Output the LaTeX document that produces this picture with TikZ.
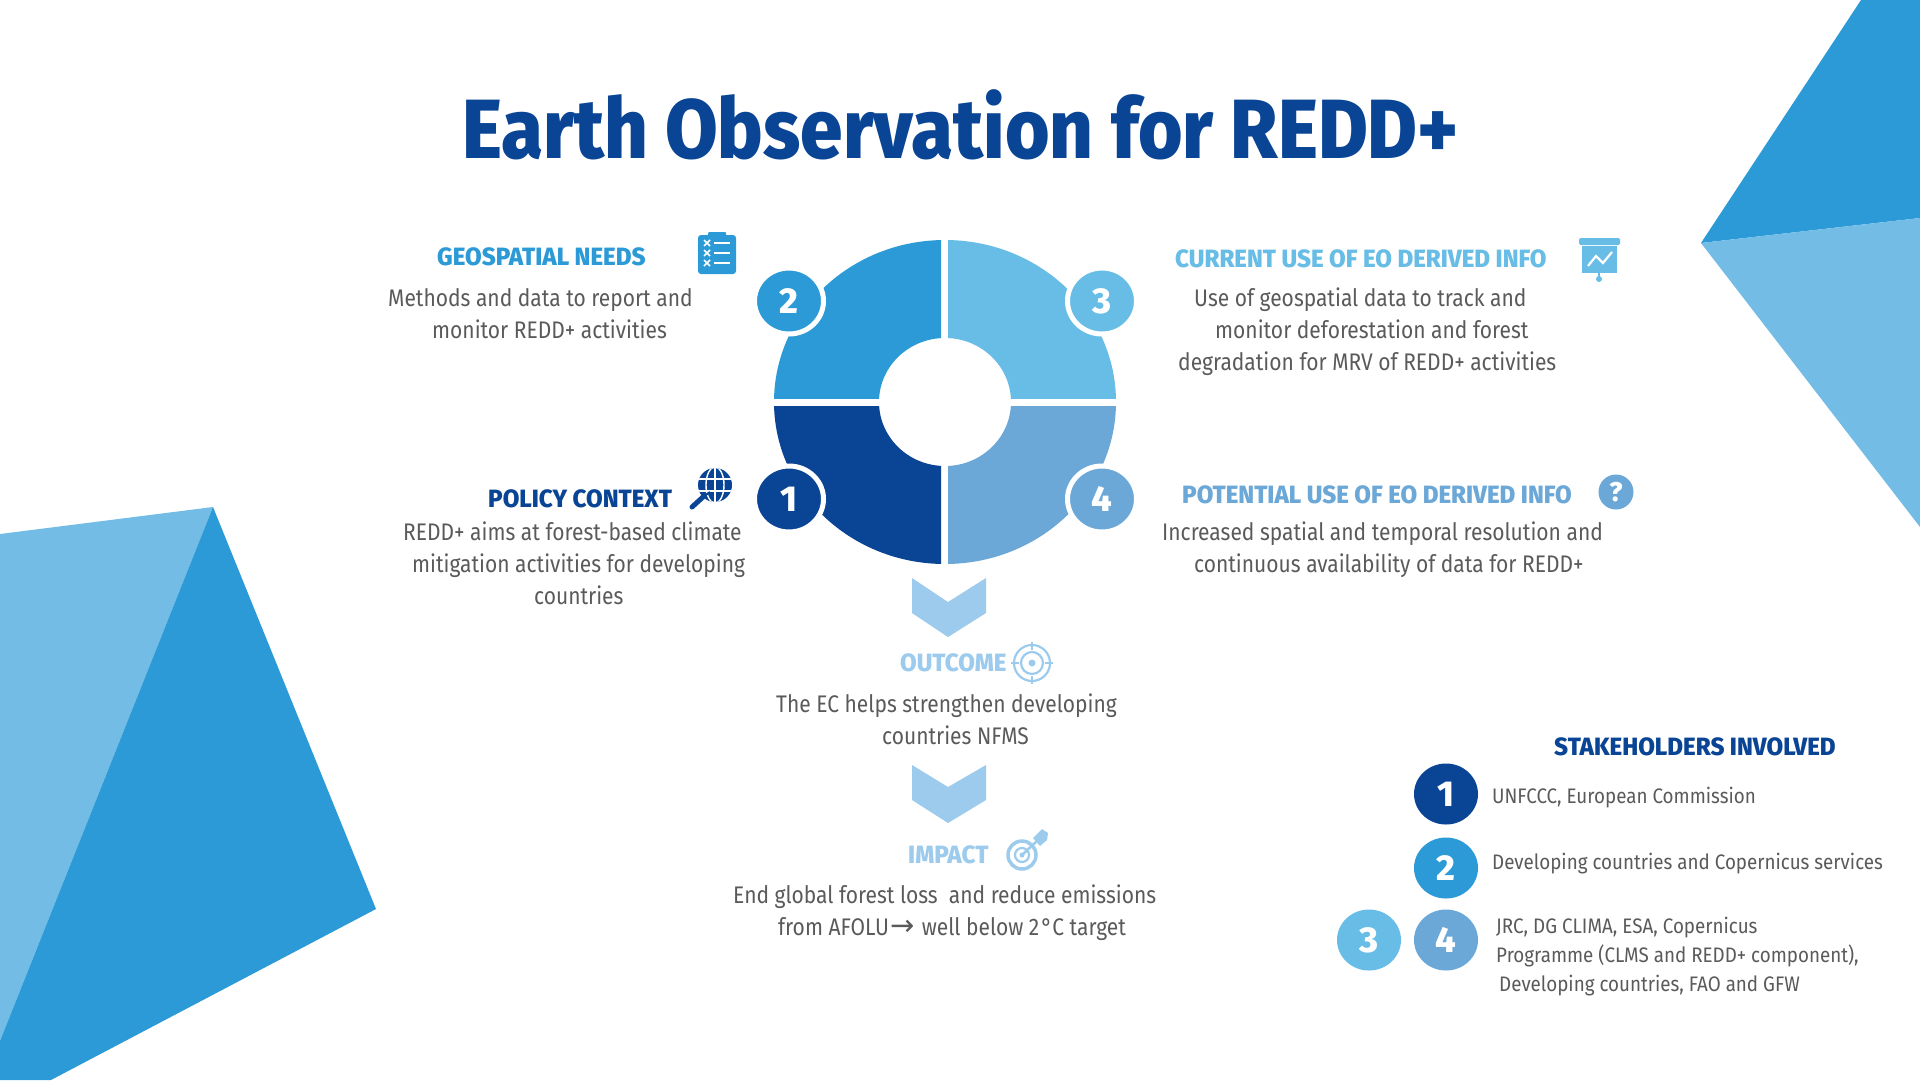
\documentclass[tikz,border=0pt]{standalone}
\usepackage{fontspec}
\usetikzlibrary{shapes.geometric}
\newfontfamily\bodyf[FakeStretch=0.875]{Fira Sans}
\newfontfamily\smallf[FakeStretch=0.895]{Fira Sans}
\newfontfamily\headf[FakeStretch=0.965]{Fira Sans ExtraBold}
\newfontfamily\digitf{Fira Sans ExtraBold}
\newfontfamily\titlef[FakeStretch=0.908]{Fira Sans ExtraBold}
\newfontfamily\arrowf{DejaVu Sans}
\definecolor{cdark}{HTML}{0A4595}
\definecolor{cmid}{HTML}{2B9AD6}
\definecolor{clight}{HTML}{67BDE6}
\definecolor{csteel}{HTML}{6CA8D7}
\definecolor{cpale}{HTML}{9CCBEE}
\definecolor{ctri}{HTML}{72BCE6}
\definecolor{ctxt}{HTML}{5A5A5A}
\tikzset{
  bodytext/.style={anchor=west,align=left,text=ctxt,inner sep=0pt,font=\bodyf\fontsize{24}{32}\selectfont},
  smalltext/.style={anchor=west,align=left,text=ctxt,inner sep=0pt,font=\smallf\fontsize{21}{29}\selectfont},
  headtext/.style={anchor=west,inner sep=0pt,font=\headf\fontsize{25}{30}\selectfont},
  badge/.style={ellipse,inner sep=0pt,minimum width=64pt,minimum height=61pt,text=white,font=\digitf\fontsize{36}{36}\selectfont},
  ringed/.style={badge,draw=white,line width=5pt,minimum width=69pt,minimum height=66pt},
}
\begin{document}
\begin{tikzpicture}[x=1pt,y=-1pt]
\useasboundingbox (0,0) rectangle (1920,1080);
\fill[white] (0,0) rectangle (1920,1080);
% corner shards
\fill[cmid] (1861,0)--(1920,0)--(1920,218)--(1701,243)--cycle;
\fill[ctri] (1701,243)--(1920,218)--(1920,527)--cycle;
\fill[ctri] (0,534)--(213,507)--(0,1041)--cycle;
\fill[cmid] (213,507)--(376,909)--(51,1080)--(0,1080)--(0,1041)--cycle;
% title
\node[anchor=west,inner sep=0pt,text=cdark,font=\titlef\fontsize{84}{90}\selectfont] (title) at (462,125) {Earth Observation for REDD+};
% donut
\begin{scope}\clip (770,235) rectangle (941,398);
\fill[cmid,even odd rule] (945,402) ellipse [x radius=171pt,y radius=162pt] (945,402) ellipse [x radius=66pt,y radius=64pt];\end{scope}
\begin{scope}\clip (948,235) rectangle (1125,398);
\fill[clight,even odd rule] (945,402) ellipse [x radius=171pt,y radius=162pt] (945,402) ellipse [x radius=66pt,y radius=64pt];\end{scope}
\begin{scope}\clip (770,406) rectangle (941,570);
\fill[cdark,even odd rule] (945,402) ellipse [x radius=171pt,y radius=162pt] (945,402) ellipse [x radius=66pt,y radius=64pt];\end{scope}
\begin{scope}\clip (948,406) rectangle (1125,570);
\fill[csteel,even odd rule] (945,402) ellipse [x radius=171pt,y radius=162pt] (945,402) ellipse [x radius=66pt,y radius=64pt];\end{scope}
\node[ringed,fill=cmid] (d2) at (789,301) {2};
\node[ringed,fill=clight] (d3) at (1102,301) {3};
\node[ringed,fill=cdark] (d1) at (789,499) {1};
\node[ringed,fill=csteel] (d4) at (1102,499) {4};
% section texts
\node[headtext,text=cmid] (hgeo) at (437,257) {GEOSPATIAL NEEDS};
\node[bodytext] (bgeo) at (388,314) {Methods and data to report and\\\hspace*{44pt}monitor REDD+ activities};
\node[headtext,text=cdark] (hpol) at (488,499) {POLICY CONTEXT};
\node[bodytext] (bpol) at (403,563) {REDD+ aims at forest-based climate\\\hspace*{9pt}mitigation activities for developing\\\hspace*{131pt}countries};
\node[headtext,text=clight] (hcur) at (1175,259) {CURRENT USE OF EO DERIVED INFO};
\node[bodytext] (bcur) at (1178,332) {\hspace*{16pt}Use of geospatial data to track and\\\hspace*{37pt}monitor deforestation and forest\\degradation for MRV of REDD+ activities};
\node[headtext,text=csteel] (hpot) at (1182,495) {POTENTIAL USE OF EO DERIVED INFO};
\node[bodytext] (bpot) at (1162,550) {Increased spatial and temporal resolution and\\\hspace*{32pt}continuous availability of data for REDD+};
\node[headtext,text=cpale] (hout) at (900,663) {OUTCOME};
\node[bodytext] (bout) at (776,719) {The EC helps strengthen developing\\\hspace*{106pt}countries NFMS};
\node[headtext,text=cpale] (himp) at (908,855) {IMPACT};
\node[bodytext] (bimp) at (733,913) {End global forest loss\ \ and reduce emissions\\\hspace*{45pt}from AFOLU\hspace{2pt}{\arrowf\fontsize{29}{32}\selectfont →}\hspace{1pt} well below 2\hspace{2pt}°C target};
% chevrons
\fill[cpale] (912,578)--(948,602)--(986,578)--(986,613)--(948,637)--(912,613)--cycle;
\fill[cpale] (912,765)--(948,787)--(986,765)--(986,800)--(948,823)--(912,800)--cycle;
% stakeholders
\node[headtext,text=cdark] (hsta) at (1554,747) {STAKEHOLDERS INVOLVED};
\node[badge,fill=cdark] (s1) at (1446,794) {1};
\node[badge,fill=cmid] (s2) at (1446,868) {2};
\node[badge,fill=clight] (s3) at (1369,940) {3};
\node[badge,fill=csteel] (s4) at (1446,940) {4};
\node[smalltext] (t1) at (1492,798) {UNFCCC, European Commission};
\node[smalltext] (t2) at (1492,864) {Developing countries and Copernicus services};
\node[smalltext] (t3) at (1496,957) {JRC, DG CLIMA, ESA, Copernicus\\Programme (CLMS and REDD+ component),\\\hspace*{3pt}Developing countries, FAO and GFW};
% clipboard icon
\fill[cmid,rounded corners=3pt] (698,235) rectangle (736,274);
\fill[cmid,rounded corners=1pt] (708,232) rectangle (726,238);
\foreach \yy in {243,253,263}{
  \draw[white,line width=2pt] (714,\yy)--(730,\yy);
  \draw[white,line width=1.5pt] (704,\yy-3)--(710,\yy+3) (704,\yy+3)--(710,\yy-3);
}
% globe and lens icon
\fill[cdark] (715,485) circle [radius=17pt];
\begin{scope}
\clip (715,485) circle [radius=17pt];
\draw[white,line width=1.4pt] (698,479)--(732,479) (698,491)--(732,491) (715,467)--(715,503);
\draw[white,line width=1.4pt] (715,485) ellipse [x radius=9pt,y radius=18pt];
\end{scope}
\draw[cdark,line width=5pt,line cap=round] (692,507)--(703,497);
\draw[cdark,line width=2pt] (703,497)--(710,492);
% chart icon
\fill[clight,rounded corners=1.5pt] (1579,238) rectangle (1620,245);
\fill[clight] (1582,246) rectangle (1617,273);
\draw[clight,line width=2pt] (1599,273)--(1599,278);
\fill[clight] (1599,279) circle [radius=3pt];
\draw[white,line width=2.2pt] (1588,266)--(1596,256)--(1603,263)--(1612,252);
% question icon
\node[ellipse,inner sep=0pt,minimum width=35pt,minimum height=35pt,fill=csteel,text=white,font=\digitf\fontsize{27}{27}\selectfont] (q) at (1616,492) {?};
% outcome target icon
\draw[cpale,line width=2.2pt] (1032,663) circle [radius=18pt] (1032,663) circle [radius=11pt];
\fill[cpale] (1032,663) circle [radius=3.5pt];
\draw[cpale,line width=2.2pt] (1032,642)--(1032,650) (1032,676)--(1032,684) (1011,663)--(1019,663) (1045,663)--(1053,663);
% impact target icon
\draw[cpale,line width=3.5pt] (1022,855) circle [radius=14pt];
\draw[cpale,line width=2.2pt] (1022,855) circle [radius=7pt];
\fill[cpale] (1022,855) circle [radius=2.5pt];
\draw[cpale,line width=2.5pt] (1022,855)--(1038,840);
\fill[cpale] (1033,838)--(1042,829)--(1048,833)--(1047,840)--(1040,846)--cycle;
\end{tikzpicture}
\end{document}
